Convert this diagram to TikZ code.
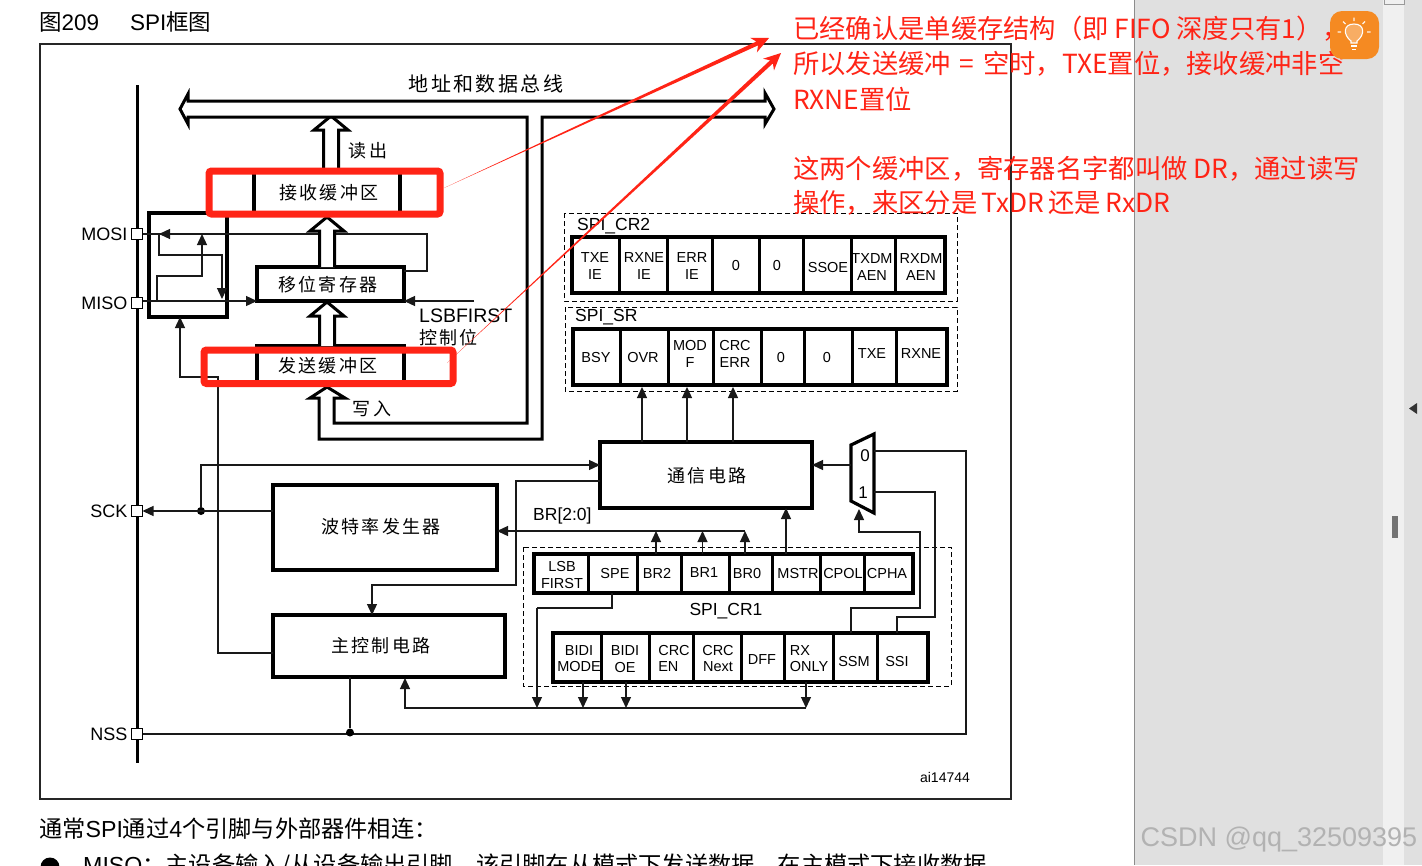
\documentclass[tikz,border=0pt]{standalone}
\usepackage{fontspec}
\setmainfont{Liberation Sans}
\newfontfamily\cjk{Noto Sans CJK SC}
\newfontfamily\cjkwide[LetterSpace=12]{Noto Sans CJK SC}
\usetikzlibrary{
    arrows.meta,
    calc,
    positioning
}
\definecolor{markred}{HTML}{FF2416}
\definecolor{panelgray}{HTML}{E0E0E0}
\definecolor{hintorange}{HTML}{F58A22}
\tikzset{
    wire/.style={line width=1.3pt, black!90},
    wirehead/.style={wire, -{Triangle[length=11pt,width=10pt]}},
    fatline/.style={line width=3pt, draw=black, fill=white, line join=miter},
    blockbox/.style={draw=black, line width=3.6pt, fill=white, inner sep=0pt, outer sep=0pt},
    regbox/.style={draw=black, line width=3.4pt, inner sep=0pt, outer sep=0pt},
    cellbar/.style={line width=3pt, black},
    dashbox/.style={draw=black, line width=1pt, dash pattern=on 5pt off 3pt},
    pinbox/.style={draw=black, line width=1.2pt, fill=white, minimum size=11pt, inner sep=0pt, outer sep=0pt},
    junction/.style={circle, fill=black, minimum size=8pt, inner sep=0pt},
    celltext/.style={font=\fontsize{14.5}{16.5}\selectfont, align=center, inner sep=0pt},
    regname/.style={font=\fontsize{17.5}{20}\selectfont, inner sep=0pt},
    pinname/.style={font=\fontsize{18}{20}\selectfont, anchor=east, inner sep=0pt},
    blocktext/.style={font=\fontsize{18}{20}\selectfont\cjkwide, inner sep=0pt},
    marktext/.style={font=\fontsize{26.3}{30}\selectfont\cjk, text=markred, anchor=west, inner sep=0pt},
    doctext/.style={font=\fontsize{22.5}{24}\selectfont, anchor=west, inner sep=0pt},
    bodytext/.style={font=\fontsize{23.2}{25}\selectfont, anchor=west, inner sep=0pt},
    redbox/.style={draw=markred, line width=7pt, rounded corners=2.5pt}
}
\newcommand{\fatarrow}[2]{%
    \draw[fatline] ($(#2 |- #1)+(-7.5,0)$) -- ($(#2)+(-7.5,14)$) -- ($(#2)+(-17,14)$) -- (#2)
        -- ($(#2)+(17,14)$) -- ($(#2)+(7.5,14)$) -- ($(#2 |- #1)+(7.5,0)$);
}
\newcommand{\redarrow}[2]{%
    \coordinate (redneck) at ($(#2)!13pt!(#1)$);
    \coordinate (redbase) at ($(#2)!17pt!(#1)$);
    \fill[markred] (#1) -- ($(redneck)!2.1pt!90:(#2)$) -- ($(redbase)!8pt!90:(#2)$) -- (#2)
        -- ($(redbase)!8pt!-90:(#2)$) -- ($(redneck)!2.1pt!-90:(#2)$) -- cycle;
}
\begin{document}
\begin{tikzpicture}[x=1pt, y=-1pt]
    \useasboundingbox (0,0) rectangle (1422,865);
    % page and viewer
    \fill[white] (0,0) rectangle (1422,865);
    \fill[panelgray] (1134,0) rectangle (1422,865);
    \draw[line width=1pt, black!45] (1134,0) -- (1134,865);
    \fill[black!6] (1383,0) rectangle (1404,865);
    \draw[line width=0.8pt, black!40] (1384,-2) rectangle (1404,4);
    \fill[black!55] (1392,516) rectangle (1398,538);
    \fill[black!80] (1409,408.5) -- (1417,403) -- (1417,414) -- cycle;
    \draw[line width=1.3pt, black!85] (40,44) rectangle (1011,799);
    \node[doctext] (figtitle) at (39,22) {{\cjk 图}209};
    \node[doctext] (figname) at (130,22) {SPI{\cjk 框图}};
    \node[bodytext] (bodyone) at (39,829) {{\cjk 通常}SPI{\cjk 通过}4{\cjk 个引脚与外部器件相连：}};
    \node[junction, minimum size=19pt] (bullet) at (50,867) {};
    \node[bodytext] (bodytwo) at (83,866) {MISO{\cjk ：主设备输入/从设备输出引脚。该引脚在从模式下发送数据，在主模式下接收数据}};

    % pins
    \draw[line width=3.4pt] (137.5,85) -- (137.5,763);
    \node[pinbox] (mosi) at (137,234) {};
    \node[pinbox] (miso) at (137,303) {};
    \node[pinbox] (sck) at (137,511) {};
    \node[pinbox] (nss) at (137,734) {};
    \foreach \pinnode/\lab in {mosi/MOSI,miso/MISO,sck/SCK,nss/NSS}{
        \node[pinname, left=4pt of \pinnode] (\pinnode name) {\lab};
    }

    % blocks
    \node[blockbox, minimum width=78pt, minimum height=104pt] (switch) at (188,265) {};
    \node[blockbox, minimum width=146pt, minimum height=43pt] (rxbuf) at (327,192.5) {};
    \node[blockbox, minimum width=147pt, minimum height=34pt] (shift) at (330.5,284) {};
    \node[blockbox, minimum width=147pt, minimum height=38pt] (txbuf) at (330.5,365) {};
    \node[blockbox, minimum width=212pt, minimum height=66pt] (comm) at (706,475) {};
    \node[blockbox, minimum width=224pt, minimum height=85pt] (baud) at (385,527.5) {};
    \node[blockbox, minimum width=232pt, minimum height=62pt] (ctrl) at (389,646) {};
    \node[blocktext] (rxtext) at (329,193) {接收缓冲区};
    \node[blocktext] (shifttext) at (328,285) {移位寄存器};
    \node[blocktext] (txtext) at (328,366) {发送缓冲区};
    \node[blocktext] (commtext) at (707,476) {通信电路};
    \node[blocktext] (baudtext) at (381,527) {波特率发生器};
    \node[blocktext] (ctrltext) at (381,646) {主控制电路};
    \node[blocktext, font=\fontsize{20}{22}\selectfont\cjkwide] (bustext) at (486,84) {地址和数据总线};
    \node[blocktext] (readtext) at (368,151) {读出};
    \node[blocktext] (writetext) at (372,409) {写入};
    \node[regname, anchor=west] (lsbtext) at (419,315.5) {\fontsize{19.5}{20}\selectfont LSBFIRST};
    \node[blocktext, anchor=west] (lsbctl) at (419,338) {控制位};

    % switch wiring
    \coordinate (swtip) at (159,234);
    \coordinate (swleft) at (202,234);
    \coordinate (misotap) at (157,301);
    \draw[wire] (mosi.east) -- (swtip);
    \draw[wire] (shift.east |- 0,271) -| (427,234) -- (swtip);
    \draw[wirehead] (427,234) -- (swtip);
    \draw[wire] (swtip) |- (222,255) -- (222,287);
    \draw[wirehead] (222,255) -- (222,299);
    \draw[wirehead] (miso.east |- shift.south) -- (shift.south west);
    \draw[wirehead] (misotap) |- (202,276) -- (swleft);
    \coordinate (lsbend) at (474,301);
    \draw[wirehead] (lsbend) -- (shift.south east);
    \coordinate (swin) at (180,317);
    \draw[wirehead] (ctrl.west |- 0,653) -| (218,377) -| (swin);

    % bus and transfer arrows
    \fatarrow{rxbuf.north}{331,116}
    \fatarrow{shift.north}{327,217}
    \fatarrow{txbuf.north}{327,302}
    \draw[fatline] (188,101) -- (765,101) -- (765,93) -- (774,109) -- (765,124) -- (765,117)
        -- (542,117) -- (542,439) -- (319,439) -- (319,398) -- (310,398) -- (327,387) -- (345,398)
        -- (334,398) -- (334,423) -- (527,423) -- (527,117) -- (188,117) -- (188,124) -- (180,109)
        -- (188,94) -- cycle;

    % status and control registers
    \draw[dashbox] (564,213) rectangle (957,301);
    \draw[dashbox] (565,307) rectangle (957,391);
    \draw[dashbox] (523,547) rectangle (951,686);
    \node[regname, anchor=west] (crtwoname) at (577,226) {SPI\_CR2};
    \node[regname, anchor=west] (srname) at (575,317) {SPI\_SR};
    \node[regname] (cronename) at (726,611) {SPI\_CR1};
    \node[regbox, minimum width=373pt, minimum height=56pt] (crtwo) at (758.5,265) {};
    \node[regbox, minimum width=374pt, minimum height=56pt] (sr) at (760,357) {};
    \node[regbox, minimum width=379pt, minimum height=39pt] (crone) at (723.5,573.5) {};
    \node[regbox, minimum width=375pt, minimum height=49pt] (crbits) at (740.5,657.5) {};
    \foreach \x in {619,667,712,759,803,851,895}{
        \draw[cellbar] (\x,237) -- (\x,293);
    }
    \foreach \x in {620,668,713,761,804,852,896}{
        \draw[cellbar] (\x,329) -- (\x,385);
    }
    \foreach \x in {588,637,681,729,772,820,864}{
        \draw[cellbar] (\x,554) -- (\x,593);
    }
    \foreach \x in {601,649,693,741,784,833,877}{
        \draw[cellbar] (\x,633) -- (\x,682);
    }
    \foreach \x/\y/\lab [count=\i] in {595/266/{TXE\\IE},644/266/{RXNE\\IE},692/266/{ERR\\IE},736/266/0,777/266/0,
        828/268/SSOE,872/267/{TXDM\\AEN},921/267/{RXDM\\AEN}}{
        \node[celltext] (crtwo\i) at (\x,\y) {\lab};
    }
    \foreach \x/\y/\lab [count=\i] in {596/358/BSY,643/358/OVR,690/354/{MOD\\F},735/354/{CRC\\ERR},781/358/0,
        827/358/0,872/354/TXE,921/354/RXNE}{
        \node[celltext] (sr\i) at (\x,\y) {\lab};
    }
    \foreach \x/\y/\lab [count=\i] in {562/575/{LSB\\FIRST},615/573/SPE,657/573/BR2,704/573/BR1,747/573/BR0,
        798/573/MSTR,843/573/CPOL,887/573/CPHA}{
        \node[celltext] (crone\i) at (\x,\y) {\lab};
    }
    \foreach \x/\y/\lab [count=\i] in {579/658.5/{BIDI\\MODE},625/659/{BIDI\\OE},718/658.5/{CRC\\Next},
        762/660/DFF,854/661/SSM,897/661/SSI}{
        \node[celltext] (crbits\i) at (\x,\y) {\lab};
    }
    \node[celltext, align=left] (crcen) at (674,658.5) {CRC\\EN};
    \node[celltext, align=left] (rxonly) at (809,658.5) {RX\\ONLY};

    % lower wiring
    \foreach \x in {642,687,733}{
        \draw[wirehead] (comm.north -| \x,0) -- (\x,387);
    }
    \node[junction] (sckdot) at (201,511) {};
    \draw[wirehead] (baud.west |- sck) -- (sck.east);
    \draw[wirehead] (sckdot) |- (600,465);
    \draw[wirehead] (600,481) -| (516,585) -| (372,615);
    \coordinate (brend) at (745,531);
    \draw[wirehead] (brend) -- (baud.east |- brend);
    \foreach \x in {656,702.5,745}{
        \draw[wirehead] (\x,554) -- (\x,531);
    }
    \node[regname, anchor=west] (brtext) at (533,516) {BR[2:0]};
    \draw[wirehead] (786,554) -- (786,508);

    % mode multiplexer
    \coordinate (muxtop) at (874,434);
    \coordinate (muxbot) at (874,513);
    \draw[line width=3.2pt, fill=white, line join=miter] (851,445) -- (muxtop) -- (muxbot) -- (851,501) -- cycle;
    \node[celltext, font=\fontsize{17}{20}\selectfont] (muxzero) at (865,456) {0};
    \node[celltext, font=\fontsize{17}{20}\selectfont] (muxone) at (863,493) {1};
    \draw[wirehead] (851,465) -- (comm.east |- 851,465);
    \draw[wire] (874,451) -| (966,734) -- (nss.east);
    \draw[wire] (874,492) -| (935,617) -| (897,633);
    \draw[wirehead] (851,633) |- (920,608) |- (859,532) -- (859,509);

    % lower control wiring
    \node[junction] (nssdot) at (350,732.5) {};
    \draw[wire] (ctrl.south -| nssdot) -- (nssdot);
    \draw[wire] (612,593) |- (537,608);
    \draw[wirehead] (537,608) -- (537,708);
    \foreach \x in {583,626,806}{
        \draw[wirehead] (\x,682) -- (\x,708);
    }
    \draw[wirehead] (806,708) -| (405,678);
    \node[font=\fontsize{14}{15}\selectfont, inner sep=0pt] (figid) at (945,777) {ai14744};

    % red marks
    \draw[redbox] (209,171) rectangle (440,214);
    \draw[redbox] (204,350) rectangle (453,383.5);
    \coordinate (rxmark) at (444,188);
    \coordinate (rxtip) at (769,38);
    \coordinate (txmark) at (447,363);
    \coordinate (txtip) at (781,53);
    \redarrow{rxmark}{rxtip}
    \redarrow{txmark}{txtip}
    \node[marktext] (noteone) at (793,29) {已经确认是单缓存结构（即 FIFO 深度只有1），};
    \node[marktext] (notetwo) at (793,64) {所以发送缓冲\,\,=\,\,空时，TXE置位，接收缓冲非空};
    \node[marktext] (notethree) at (793,99) {RXNE置位};
    \node[marktext] (notefour) at (793,169) {这两个缓冲区，寄存器名字都叫做 DR，通过读写};
    \node[marktext] (notefive) at (793,203) {操作，来区分是\,TxDR\,还是\,RxDR};

    % hint icon and watermark
    \fill[hintorange, rounded corners=12pt] (1330,11) rectangle (1379,59);
    \draw[white, line width=1.1pt, fill=white, fill opacity=0.3] (1351,43) -- (1351,41) .. controls (1343,35) and (1343,24) .. (1354,24)
        .. controls (1365,24) and (1365,35) .. (1357,41) -- (1357,43) -- cycle;
    \draw[white, line width=1.1pt] (1351,46) -- (1357,46) (1352,49.5) -- (1356,49.5);
    \draw[white!90!hintorange, line width=1.2pt] (1354,17.5) -- (1354,21) (1343,21.5) -- (1345.5,24)
        (1365,21.5) -- (1362.5,24) (1337.5,32) -- (1341,32) (1367,32) -- (1370.5,32);
    \node[font=\fontsize{27}{30}\selectfont, text=black!30, inner sep=0pt] (watermark) at (1279,840) {CSDN @qq\_32509395};
\end{tikzpicture}
\end{document}
